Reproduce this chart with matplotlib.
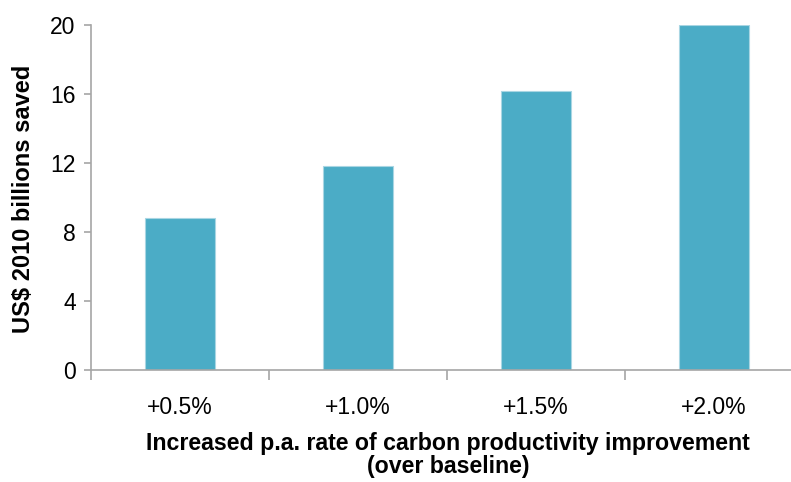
import matplotlib
matplotlib.use("Agg")
import matplotlib.pyplot as plt

categories = ["+0.5%", "+1.0%", "+1.5%", "+2.0%"]
savings = [8.8, 11.8, 16.2, 20.0]
y_ticks = [0, 4, 8, 12, 16, 20]

W, H = 791, 482
fig = plt.figure(figsize=(W / 100, H / 100), dpi=100)
fig.patch.set_facecolor("white")

# axes frame in pixel terms; the plot area runs past the right edge of the canvas
x0, y0, x1, y1 = 91, 370, 803, 25
ax = fig.add_axes([x0 / W, (H - y0) / H, (x1 - x0) / W, (y0 - y1) / H])

centers = [i + 0.5 for i in range(len(categories))]
ax.bar(centers, savings, width=0.395, color="#4BACC6", edgecolor="#A9D6E3",
       linewidth=0.8, zorder=2)

ax.set_xlim(0, len(categories))
ax.set_ylim(0, 20)

axis_col = "#A6A6A6"
for s in ("top", "right"):
    ax.spines[s].set_visible(False)
for s in ("left", "bottom"):
    ax.spines[s].set_color(axis_col)
    ax.spines[s].set_linewidth(1.2)

ax.set_yticks(y_ticks)
ax.set_yticklabels([str(v) for v in y_ticks], fontfamily="Liberation Sans", fontsize=16.5)
ax.tick_params(axis="y", direction="out", length=5, width=1.2, color=axis_col, pad=6)

ax.set_xticks(range(len(categories) + 1))
ax.set_xticklabels([])
ax.tick_params(axis="x", which="major", direction="out", length=7, width=1.2, color=axis_col)
ax.set_xticks(centers, minor=True)
ax.set_xticklabels(categories, minor=True, fontfamily="Liberation Sans", fontsize=16.5)
ax.tick_params(axis="x", which="minor", length=0, pad=19)

fig.text(24 / W, (H - 199) / H, "US$ 2010 billions saved", rotation=90,
         ha="center", va="center", fontfamily="Liberation Sans", fontweight="bold",
         fontsize=17)
fig.text(448 / W, (H - 455) / H,
         "Increased p.a. rate of carbon productivity improvement\n(over baseline)",
         ha="center", va="center", fontfamily="Liberation Sans", fontweight="bold",
         fontsize=16.7, linespacing=1.0)

fig.savefig("out.png", dpi=100, facecolor="white")
